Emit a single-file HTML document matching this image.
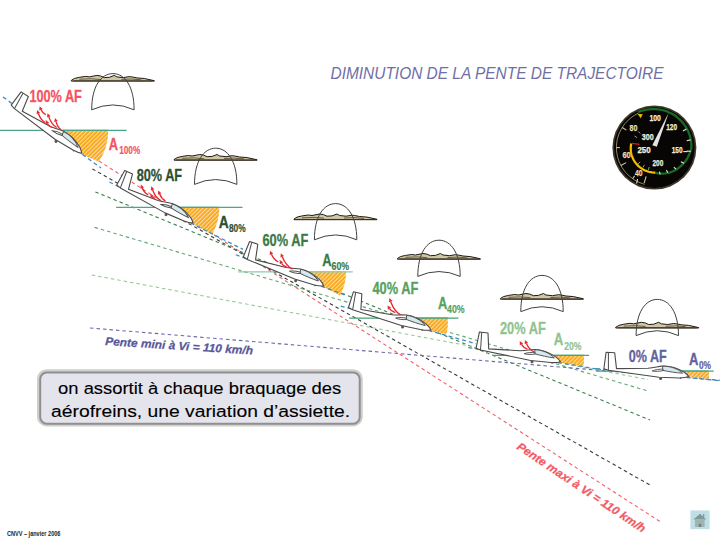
<!DOCTYPE html>
<html><head><meta charset="utf-8"><style>
html,body{margin:0;padding:0;background:#fff;}
body{width:720px;height:540px;position:relative;overflow:hidden;}
svg{position:absolute;left:0;top:0;}
</style></head><body>
<svg width="720" height="540" viewBox="0 0 720 540">
<defs>
<pattern id="hatch" patternUnits="userSpaceOnUse" width="2.9" height="10" patternTransform="rotate(45)">
<rect width="2.9" height="10" fill="#f7a700"/><rect width="1.25" height="10" fill="#ffd6b0"/>
</pattern>

<g id="gl"><g transform="translate(-688.9,-376.6)">
<path d="M603.9,368.7 L606.1,352.3 L614.7,352.8 L616.5,368.6 L648,368.3 C655,367.6 658,366.4 662.2,366.1 C670,365.6 678,368.5 684.3,372.2 C686.5,373.6 688,375.3 688.9,376.6 C686,377.7 682,378 679.7,378 L659.1,377.3 L608.4,370.2 Z" fill="#fff" stroke="#4a4a4a" stroke-width="1.1" stroke-linejoin="round"/>
<path d="M662.6,366.3 C670,365.9 678,368.8 682.6,373.2 C676,372.8 669,371.6 662.8,370.4 Z" fill="#d4e8ee" stroke="#4a4a4a" stroke-width="0.9"/>
<path d="M608.4,352.6 L608.4,370.2" stroke="#4a4a4a" stroke-width="1" fill="none"/>
<path d="M652.2,371 C655,369.6 660,369 663,369.2 L663,370.6 C659,371.5 655,371.6 652.2,371 Z" fill="#fff" stroke="#4a4a4a" stroke-width="0.9"/>
<circle cx="660.6" cy="378.6" r="1.5" fill="#555"/>
<circle cx="680.5" cy="378.3" r="0.8" fill="#555"/>
</g></g>

</defs>
<line x1="99" y1="161" x2="660" y2="521.5" stroke="#f2606c" stroke-width="1.1" stroke-dasharray="3.5 3"/>
<line x1="92.4" y1="168.9" x2="651" y2="485.6" stroke="#3a3a3a" stroke-width="1.1" stroke-dasharray="3.5 3"/>
<line x1="95.4" y1="191.9" x2="650" y2="420" stroke="#3f7f4f" stroke-width="1.1" stroke-dasharray="3.5 3"/>
<line x1="94.6" y1="227.4" x2="648" y2="391" stroke="#62a872" stroke-width="1.1" stroke-dasharray="3.5 3"/>
<line x1="91.7" y1="275" x2="648" y2="379.5" stroke="#99cc99" stroke-width="1.1" stroke-dasharray="3.5 3"/>
<line x1="90" y1="328" x2="720" y2="380.3" stroke="#6a6aaa" stroke-width="1.1" stroke-dasharray="3.5 3"/>
<line x1="0" y1="130.3" x2="126.7" y2="130.3" stroke="#4aa686" stroke-width="1.2"/>
<line x1="116.1" y1="207.3" x2="242.5" y2="207.3" stroke="#4aa880" stroke-width="1.2"/>
<line x1="238.3" y1="271.9" x2="352.8" y2="271.9" stroke="#8ccbb0" stroke-width="1.2"/>
<line x1="349.2" y1="318.2" x2="458.4" y2="318.2" stroke="#40a274" stroke-width="1.2"/>
<line x1="493" y1="355.4" x2="589" y2="355.4" stroke="#3ea87e" stroke-width="1.2"/>
<line x1="596" y1="371.2" x2="713.7" y2="371.2" stroke="#3ea87e" stroke-width="1.2"/>
<path d="M51.22,130.3 L108.3,130.3 A57.08,57.08 0 0 1 98.9,161.7 L81.22,154.17 Z" fill="url(#hatch)"/>
<line x1="51.22" y1="130.3" x2="108.3" y2="130.3" stroke="#4aa686" stroke-width="1.2"/>
<path d="M162.74,207.3 L219.4,207.3 A56.66,56.66 0 0 1 212.2,234.4 L192.74,223.93 Z" fill="url(#hatch)"/>
<line x1="162.74" y1="207.3" x2="219.4" y2="207.3" stroke="#4aa880" stroke-width="1.2"/>
<path d="M294.81,271.9 L346.1,271.9 A51.29,51.29 0 0 1 340,295.6 L323.35,286.87 Z" fill="url(#hatch)"/>
<line x1="294.81" y1="271.9" x2="346.1" y2="271.9" stroke="#8ccbb0" stroke-width="1.2"/>
<path d="M400.63,318.2 L447.8,318.2 A47.17,47.17 0 0 1 446.5,334 L430.63,330.98 Z" fill="url(#hatch)"/>
<line x1="400.63" y1="318.2" x2="447.8" y2="318.2" stroke="#40a274" stroke-width="1.2"/>
<path d="M530.33,355.4 L583.9,355.4 A53.57,53.57 0 0 1 583.5,366.5 L560.33,362.8 Z" fill="url(#hatch)"/>
<line x1="530.33" y1="355.4" x2="583.9" y2="355.4" stroke="#3ea87e" stroke-width="1.2"/>
<path d="M658.9,371.2 L708.8,371.2 A49.9,49.9 0 0 1 708.8,378.8 L688.9,377.6 Z" fill="url(#hatch)"/>
<line x1="658.9" y1="371.2" x2="708.8" y2="371.2" stroke="#3ea87e" stroke-width="1.2"/>
<line x1="3" y1="97" x2="101" y2="167.93" stroke="#3b8cc4" stroke-width="1.3" stroke-dasharray="4 3"/>
<line x1="109.37" y1="181.97" x2="243" y2="249.41" stroke="#3b8cc4" stroke-width="1.3" stroke-dasharray="4 3"/>
<line x1="235.71" y1="254.76" x2="347" y2="295.67" stroke="#3b8cc4" stroke-width="1.3" stroke-dasharray="4 3"/>
<line x1="340.7" y1="306.01" x2="476" y2="343.74" stroke="#3b8cc4" stroke-width="1.3" stroke-dasharray="4 3"/>
<line x1="468.26" y1="347.52" x2="601" y2="369.69" stroke="#3b8cc4" stroke-width="1.3" stroke-dasharray="4 3"/>
<line x1="596" y1="368.62" x2="720" y2="380.74" stroke="#3b8cc4" stroke-width="1.3" stroke-dasharray="4 3"/>
<use href="#gl" transform="translate(81.7,153.3) rotate(29)"/>
<use href="#gl" transform="translate(193.1,223) rotate(21.2)"/>
<use href="#gl" transform="translate(323.6,285.9) rotate(14.6)"/>
<use href="#gl" transform="translate(430.8,330) rotate(10)"/>
<use href="#gl" transform="translate(560.4,361.8) rotate(3.9)"/>
<use href="#gl" transform="translate(688.9,376.6) rotate(0)"/>
<path d="M45.8,114.6 Q42.39,112.93 41.06,109.76" stroke="#e8262b" stroke-width="1.35" fill="none"/>
<path d="M39.6,106.25 L42.82,109.02 L39.31,110.49 Z" fill="#e8262b"/>
<path d="M45,122.5 Q40.66,120 38.37,113.58" stroke="#e8262b" stroke-width="1.35" fill="none"/>
<path d="M37.1,110 L40.16,112.94 L36.58,114.22 Z" fill="#e8262b"/>
<path d="M56.7,127.5 Q51.64,124.66 48.8,116.87" stroke="#e8262b" stroke-width="1.35" fill="none"/>
<path d="M47.5,113.3 L50.59,116.22 L47.02,117.52 Z" fill="#e8262b"/>
<path d="M51.7,127.5 Q48.45,126 47.34,123.47" stroke="#e8262b" stroke-width="1.35" fill="none"/>
<path d="M45.8,120 L49.08,122.71 L45.6,124.24 Z" fill="#e8262b"/>
<path d="M60.8,129.6 Q57.61,127.26 56.02,121.56" stroke="#e8262b" stroke-width="1.35" fill="none"/>
<path d="M55,117.9 L57.85,121.05 L54.19,122.07 Z" fill="#e8262b"/>
<path d="M148.3,195 Q144.18,192.92 142.23,188.12" stroke="#e8262b" stroke-width="1.35" fill="none"/>
<path d="M140.8,184.6 L143.99,187.41 L140.47,188.84 Z" fill="#e8262b"/>
<path d="M160.4,200.4 Q155.37,197.57 152.55,189.82" stroke="#e8262b" stroke-width="1.35" fill="none"/>
<path d="M151.25,186.25 L154.33,189.17 L150.76,190.47 Z" fill="#e8262b"/>
<path d="M155,198.3 Q152.47,197.39 152.28,197.05" stroke="#e8262b" stroke-width="1.35" fill="none"/>
<path d="M150.4,193.75 L153.93,196.11 L150.63,197.99 Z" fill="#e8262b"/>
<path d="M165.4,200.8 Q161.5,198.72 159.66,193.95" stroke="#e8262b" stroke-width="1.35" fill="none"/>
<path d="M158.3,190.4 L161.44,193.27 L157.89,194.63 Z" fill="#e8262b"/>
<path d="M278.3,262 Q273.74,259.76 271.46,254.31" stroke="#e8262b" stroke-width="1.35" fill="none"/>
<path d="M270,250.8 L273.22,253.58 L269.71,255.04 Z" fill="#e8262b"/>
<path d="M286.7,267 Q282.8,265.6 281.48,263.3" stroke="#e8262b" stroke-width="1.35" fill="none"/>
<path d="M279.6,260 L283.13,262.36 L279.83,264.24 Z" fill="#e8262b"/>
<path d="M292.5,269.2 Q286.06,266.02 282.25,256.81" stroke="#e8262b" stroke-width="1.35" fill="none"/>
<path d="M280.8,253.3 L284.01,256.08 L280.5,257.54 Z" fill="#e8262b"/>
<path d="M400.5,314.8 Q394.39,311.46 390.73,301.66" stroke="#e8262b" stroke-width="1.35" fill="none"/>
<path d="M389.4,298.1 L392.51,300.99 L388.95,302.32 Z" fill="#e8262b"/>
<path d="M395.3,312.7 Q391.06,311.24 389.54,308.67" stroke="#e8262b" stroke-width="1.35" fill="none"/>
<path d="M387.6,305.4 L391.17,307.7 L387.9,309.64 Z" fill="#e8262b"/>
<path d="M527.4,349.1 Q523.16,347.5 521.51,344.44" stroke="#e8262b" stroke-width="1.35" fill="none"/>
<path d="M519.7,341.1 L523.18,343.54 L519.84,345.35 Z" fill="#e8262b"/>
<path d="M534,351.9 Q529,349.54 526.41,343.59" stroke="#e8262b" stroke-width="1.35" fill="none"/>
<path d="M524.9,340.1 L528.16,342.83 L524.67,344.34 Z" fill="#e8262b"/>
<g transform="translate(71.3,80.4)"><path d="M0,0 L3.1,-1.9 L8.1,-3.1 L14.4,-4 L18,-3.5 L25.6,-5 L29.4,-4.4 L33,-2.8 L38,-3.1 L43,-5 L45.6,-3.5 L52,-2.8 L58,-3.8 L60.6,-3.5 L65.6,-2.5 L73,-1.9 L83,0.3 L83,0.7 L0,0.7 Z" fill="#cfc6a6" stroke="#1e1a12" stroke-width="1" stroke-linejoin="round"/><path d="M8,-1.2 L20,-1.6 L30,-0.8 M50,-1 L60,-1.4 L70,-0.6" stroke="#6a5a40" stroke-width="1" fill="none"/><path d="M2,0.4 L81,0.5" stroke="#3a3020" stroke-width="0.9"/></g>
<path transform="translate(112.9,73.6)" d="M-21.2,36.2 C-21.2,13 -12,0 0,0 C12,0 21.2,13 21.2,36.2 Q0,26.5 -21.2,36.2 Z" fill="none" stroke="#404040" stroke-width="1"/>
<g transform="translate(174.1,159.5)"><path d="M0,0 L3.1,-1.9 L8.1,-3.1 L14.4,-4 L18,-3.5 L25.6,-5 L29.4,-4.4 L33,-2.8 L38,-3.1 L43,-5 L45.6,-3.5 L52,-2.8 L58,-3.8 L60.6,-3.5 L65.6,-2.5 L73,-1.9 L83,0.3 L83,0.7 L0,0.7 Z" fill="#cfc6a6" stroke="#1e1a12" stroke-width="1" stroke-linejoin="round"/><path d="M8,-1.2 L20,-1.6 L30,-0.8 M50,-1 L60,-1.4 L70,-0.6" stroke="#6a5a40" stroke-width="1" fill="none"/><path d="M2,0.4 L81,0.5" stroke="#3a3020" stroke-width="0.9"/></g>
<path transform="translate(215.7,148.2)" d="M-21.2,36.2 C-21.2,13 -12,0 0,0 C12,0 21.2,13 21.2,36.2 Q0,26.5 -21.2,36.2 Z" fill="none" stroke="#404040" stroke-width="1"/>
<g transform="translate(294,219)"><path d="M0,0 L3.1,-1.9 L8.1,-3.1 L14.4,-4 L18,-3.5 L25.6,-5 L29.4,-4.4 L33,-2.8 L38,-3.1 L43,-5 L45.6,-3.5 L52,-2.8 L58,-3.8 L60.6,-3.5 L65.6,-2.5 L73,-1.9 L83,0.3 L83,0.7 L0,0.7 Z" fill="#cfc6a6" stroke="#1e1a12" stroke-width="1" stroke-linejoin="round"/><path d="M8,-1.2 L20,-1.6 L30,-0.8 M50,-1 L60,-1.4 L70,-0.6" stroke="#6a5a40" stroke-width="1" fill="none"/><path d="M2,0.4 L81,0.5" stroke="#3a3020" stroke-width="0.9"/></g>
<path transform="translate(335.6,203.6)" d="M-21.2,36.2 C-21.2,13 -12,0 0,0 C12,0 21.2,13 21.2,36.2 Q0,26.5 -21.2,36.2 Z" fill="none" stroke="#404040" stroke-width="1"/>
<g transform="translate(397.4,258.5)"><path d="M0,0 L3.1,-1.9 L8.1,-3.1 L14.4,-4 L18,-3.5 L25.6,-5 L29.4,-4.4 L33,-2.8 L38,-3.1 L43,-5 L45.6,-3.5 L52,-2.8 L58,-3.8 L60.6,-3.5 L65.6,-2.5 L73,-1.9 L83,0.3 L83,0.7 L0,0.7 Z" fill="#cfc6a6" stroke="#1e1a12" stroke-width="1" stroke-linejoin="round"/><path d="M8,-1.2 L20,-1.6 L30,-0.8 M50,-1 L60,-1.4 L70,-0.6" stroke="#6a5a40" stroke-width="1" fill="none"/><path d="M2,0.4 L81,0.5" stroke="#3a3020" stroke-width="0.9"/></g>
<path transform="translate(439,240.2)" d="M-21.2,36.2 C-21.2,13 -12,0 0,0 C12,0 21.2,13 21.2,36.2 Q0,26.5 -21.2,36.2 Z" fill="none" stroke="#404040" stroke-width="1"/>
<g transform="translate(500.4,298.5)"><path d="M0,0 L3.1,-1.9 L8.1,-3.1 L14.4,-4 L18,-3.5 L25.6,-5 L29.4,-4.4 L33,-2.8 L38,-3.1 L43,-5 L45.6,-3.5 L52,-2.8 L58,-3.8 L60.6,-3.5 L65.6,-2.5 L73,-1.9 L83,0.3 L83,0.7 L0,0.7 Z" fill="#cfc6a6" stroke="#1e1a12" stroke-width="1" stroke-linejoin="round"/><path d="M8,-1.2 L20,-1.6 L30,-0.8 M50,-1 L60,-1.4 L70,-0.6" stroke="#6a5a40" stroke-width="1" fill="none"/><path d="M2,0.4 L81,0.5" stroke="#3a3020" stroke-width="0.9"/></g>
<path transform="translate(542,275.4)" d="M-21.2,36.2 C-21.2,13 -12,0 0,0 C12,0 21.2,13 21.2,36.2 Q0,26.5 -21.2,36.2 Z" fill="none" stroke="#404040" stroke-width="1"/>
<g transform="translate(615.7,327.3)"><path d="M0,0 L3.1,-1.9 L8.1,-3.1 L14.4,-4 L18,-3.5 L25.6,-5 L29.4,-4.4 L33,-2.8 L38,-3.1 L43,-5 L45.6,-3.5 L52,-2.8 L58,-3.8 L60.6,-3.5 L65.6,-2.5 L73,-1.9 L83,0.3 L83,0.7 L0,0.7 Z" fill="#cfc6a6" stroke="#1e1a12" stroke-width="1" stroke-linejoin="round"/><path d="M8,-1.2 L20,-1.6 L30,-0.8 M50,-1 L60,-1.4 L70,-0.6" stroke="#6a5a40" stroke-width="1" fill="none"/><path d="M2,0.4 L81,0.5" stroke="#3a3020" stroke-width="0.9"/></g>
<path transform="translate(657.3,299.4)" d="M-21.2,36.2 C-21.2,13 -12,0 0,0 C12,0 21.2,13 21.2,36.2 Q0,26.5 -21.2,36.2 Z" fill="none" stroke="#404040" stroke-width="1"/>
<text x="29.4" y="101.5" textLength="52.4" lengthAdjust="spacingAndGlyphs" style="font-family:&quot;Liberation Sans&quot;,sans-serif;font-weight:bold;font-size:16.5px" fill="#f2555f" stroke="#f2555f" stroke-width="0.3">100% AF</text>
<text x="136.7" y="180.75" textLength="45.4" lengthAdjust="spacingAndGlyphs" style="font-family:&quot;Liberation Sans&quot;,sans-serif;font-weight:bold;font-size:16.5px" fill="#2b4f31" stroke="#2b4f31" stroke-width="0.3">80% AF</text>
<text x="262.5" y="246.25" textLength="45.8" lengthAdjust="spacingAndGlyphs" style="font-family:&quot;Liberation Sans&quot;,sans-serif;font-weight:bold;font-size:16.5px" fill="#3b7a45" stroke="#3b7a45" stroke-width="0.3">60% AF</text>
<text x="372.5" y="294.25" textLength="45.8" lengthAdjust="spacingAndGlyphs" style="font-family:&quot;Liberation Sans&quot;,sans-serif;font-weight:bold;font-size:16.5px" fill="#56a15e" stroke="#56a15e" stroke-width="0.3">40% AF</text>
<text x="500" y="333.8" textLength="45.8" lengthAdjust="spacingAndGlyphs" style="font-family:&quot;Liberation Sans&quot;,sans-serif;font-weight:bold;font-size:16.5px" fill="#8fc48f" stroke="#8fc48f" stroke-width="0.3">20% AF</text>
<text x="628.75" y="361.8" textLength="37.9" lengthAdjust="spacingAndGlyphs" style="font-family:&quot;Liberation Sans&quot;,sans-serif;font-weight:bold;font-size:16.5px" fill="#62629e" stroke="#62629e" stroke-width="0.3">0% AF</text>
<text x="108.8" y="149.75" textLength="9.3" lengthAdjust="spacingAndGlyphs" style="font-family:&quot;Liberation Sans&quot;,sans-serif;font-weight:bold;font-size:16.5px" fill="#f2555f" stroke="#f2555f" stroke-width="0.3">A</text>
<text x="119.2" y="154.2" textLength="21" lengthAdjust="spacingAndGlyphs" style="font-family:&quot;Liberation Sans&quot;,sans-serif;font-weight:bold;font-size:11.5px" fill="#f2555f" stroke="#f2555f" stroke-width="0.2">100%</text>
<text x="218.75" y="227.5" textLength="10" lengthAdjust="spacingAndGlyphs" style="font-family:&quot;Liberation Sans&quot;,sans-serif;font-weight:bold;font-size:16.5px" fill="#2b4f31" stroke="#2b4f31" stroke-width="0.3">A</text>
<text x="228.9" y="232" textLength="16.8" lengthAdjust="spacingAndGlyphs" style="font-family:&quot;Liberation Sans&quot;,sans-serif;font-weight:bold;font-size:11.5px" fill="#2b4f31" stroke="#2b4f31" stroke-width="0.2">80%</text>
<text x="322.2" y="265.6" textLength="9.3" lengthAdjust="spacingAndGlyphs" style="font-family:&quot;Liberation Sans&quot;,sans-serif;font-weight:bold;font-size:16.5px" fill="#3b7a45" stroke="#3b7a45" stroke-width="0.3">A</text>
<text x="331.5" y="270" textLength="17.6" lengthAdjust="spacingAndGlyphs" style="font-family:&quot;Liberation Sans&quot;,sans-serif;font-weight:bold;font-size:11.5px" fill="#3b7a45" stroke="#3b7a45" stroke-width="0.2">60%</text>
<text x="438" y="308.6" textLength="9.3" lengthAdjust="spacingAndGlyphs" style="font-family:&quot;Liberation Sans&quot;,sans-serif;font-weight:bold;font-size:16.5px" fill="#56a15e" stroke="#56a15e" stroke-width="0.3">A</text>
<text x="447.1" y="313.3" textLength="17.6" lengthAdjust="spacingAndGlyphs" style="font-family:&quot;Liberation Sans&quot;,sans-serif;font-weight:bold;font-size:11.5px" fill="#56a15e" stroke="#56a15e" stroke-width="0.2">40%</text>
<text x="553.75" y="345.4" textLength="9.5" lengthAdjust="spacingAndGlyphs" style="font-family:&quot;Liberation Sans&quot;,sans-serif;font-weight:bold;font-size:16.5px" fill="#8fc48f" stroke="#8fc48f" stroke-width="0.3">A</text>
<text x="564.2" y="350" textLength="17.2" lengthAdjust="spacingAndGlyphs" style="font-family:&quot;Liberation Sans&quot;,sans-serif;font-weight:bold;font-size:11.5px" fill="#8fc48f" stroke="#8fc48f" stroke-width="0.2">20%</text>
<text x="688.9" y="364.7" textLength="9.4" lengthAdjust="spacingAndGlyphs" style="font-family:&quot;Liberation Sans&quot;,sans-serif;font-weight:bold;font-size:16.5px" fill="#62629e" stroke="#62629e" stroke-width="0.3">A</text>
<text x="698.9" y="368.9" textLength="12.1" lengthAdjust="spacingAndGlyphs" style="font-family:&quot;Liberation Sans&quot;,sans-serif;font-weight:bold;font-size:11.5px" fill="#62629e" stroke="#62629e" stroke-width="0.2">0%</text>
<text transform="translate(105,345) rotate(3.7)" textLength="148" lengthAdjust="spacingAndGlyphs" style="font-family:&quot;Liberation Sans&quot;,sans-serif;font-weight:bold;font-style:italic;font-size:11.5px" fill="#58589a" stroke="#58589a" stroke-width="0.25">Pente mini à Vi = 110 km/h</text>
<text transform="translate(516,448.4) rotate(33.8)" textLength="152" lengthAdjust="spacingAndGlyphs" style="font-family:&quot;Liberation Sans&quot;,sans-serif;font-weight:bold;font-style:italic;font-size:11.5px" fill="#f25a66" stroke="#f25a66" stroke-width="0.25">Pente maxi à Vi = 110 km/h</text>
<text x="330.5" y="78.8" textLength="333" lengthAdjust="spacingAndGlyphs" style="font-family:&quot;Liberation Sans&quot;,sans-serif;font-style:italic;font-size:17px" fill="#6f6fa6">DIMINUTION DE LA PENTE DE TRAJECTOIRE</text>
<circle cx="654.4" cy="147.6" r="42" fill="#3f372c"/>
<circle cx="654.4" cy="147.6" r="40.3" fill="#070605"/>
<path d="M644.56,184.31 A38.0,38.0 0 0 1 638.34,113.16" stroke="#b8a47a" stroke-width="0.8" fill="none"/>
<path d="M637.92,112.25 L640.05,111.4 L642.23,110.67 L644.45,110.07 L646.69,109.61 L648.96,109.28 L651.23,109.08 L653.51,109.02 L655.79,109.1 L658.05,109.3 L660.3,109.64 L662.52,110.12 L664.7,110.72 L666.84,111.44 L668.93,112.3 L670.96,113.27 L672.93,114.36 L674.83,115.56 L676.65,116.87 L678.39,118.28 L680.03,119.79 L681.59,121.39 L683.04,123.08 L684.39,124.85 L685.63,126.69 L686.76,128.6 L687.78,130.57 L688.67,132.59 L689.44,134.66 L690.09,136.77 L690.61,138.91 L691,141.07 L691.26,143.25 L691.39,145.43 L691.4,147.62 L690.88,149.78 L690.23,151.87 L689.47,153.9 L688.6,155.85 L687.62,157.72 L686.54,159.51 L685.36,161.2 L684.1,162.8 L682.76,164.3 L681.35,165.69 L679.88,166.97 L678.34,168.15 L676.76,169.21 L675.14,170.16 L673.49,170.99 L671.81,171.71 L670.11,172.31 L668.41,172.8 L666.7,173.17 L665,173.43 L663.31,173.58 L661.63,173.63 L659.99,173.57 L658.38,173.4 L656.81,173.14 L655.28,172.78" stroke="#176a22" stroke-width="2.3" fill="none"/>
<path d="M655.27,172.58 L654.16,172.56 L653.05,172.49 L651.95,172.37 L650.86,172.2 L649.77,171.98 L648.7,171.71 L647.64,171.4 L646.6,171.04 L645.58,170.63 L644.58,170.18 L643.6,169.69 L642.65,169.15 L641.72,168.58 L640.82,167.96 L639.95,167.31 L639.11,166.62 L638.3,165.89 L637.53,165.13 L636.8,164.33 L636.1,163.51 L635.44,162.66 L634.82,161.78 L634.24,160.87 L633.7,159.94 L633.2,158.99 L632.75,158.02 L632.34,157.03 L631.98,156.03 L631.66,155.01 L631.39,153.98 L631.17,152.94 L630.99,151.9 L630.86,150.85 L630.78,149.79 L630.74,148.74 L630.75,147.68 L630.81,146.63 L630.91,145.59 L631.06,144.55 L631.26,143.52" stroke="#f4c200" stroke-width="2.2" fill="none"/>
<path d="M632,143.4 L639.6,144.4" stroke="#e01818" stroke-width="1.4"/>
<line x1="682.98" y1="131.1" x2="686.44" y2="129.1" stroke="#e8e2d0" stroke-width="1.1"/>
<line x1="686.68" y1="140.74" x2="690.59" y2="139.91" stroke="#e8e2d0" stroke-width="1.1"/>
<line x1="686.72" y1="151" x2="690.7" y2="151.42" stroke="#e8e2d0" stroke-width="1.1"/>
<line x1="680.89" y1="161.68" x2="683.98" y2="163.33" stroke="#e8e2d0" stroke-width="1.1"/>
<line x1="673.85" y1="167.05" x2="675.97" y2="169.17" stroke="#e8e2d0" stroke-width="1.1"/>
<line x1="666.37" y1="170.12" x2="667.78" y2="172.76" stroke="#e8e2d0" stroke-width="1.1"/>
<line x1="659.49" y1="171.56" x2="660.12" y2="174.5" stroke="#e8e2d0" stroke-width="1.1"/>
<line x1="626.41" y1="130.11" x2="622.17" y2="127.46" stroke="#d8c8a0" stroke-width="1.1"/>
<line x1="619.9" y1="147.6" x2="616.4" y2="147.6" stroke="#d8c8a0" stroke-width="1.1"/>
<line x1="626.15" y1="162.62" x2="620.85" y2="165.44" stroke="#d8c8a0" stroke-width="1.1"/>
<line x1="634.61" y1="175.86" x2="632.6" y2="178.73" stroke="#d8c8a0" stroke-width="1.1"/>
<line x1="646.13" y1="176.44" x2="644.2" y2="183.17" stroke="#d8c8a0" stroke-width="1.1"/>
<line x1="649.22" y1="166.92" x2="648.45" y2="169.82" stroke="#b0c0c8" stroke-width="0.8"/>
<line x1="644.4" y1="164.92" x2="642.9" y2="167.52" stroke="#b0c0c8" stroke-width="0.8"/>
<line x1="640.26" y1="161.74" x2="638.14" y2="163.86" stroke="#b0c0c8" stroke-width="0.8"/>
<line x1="637.08" y1="137.6" x2="634.48" y2="136.1" stroke="#b0c0c8" stroke-width="0.8"/>
<line x1="640.26" y1="133.46" x2="638.14" y2="131.34" stroke="#b0c0c8" stroke-width="0.8"/>
<text x="649.45" y="121.3" textLength="11.5" lengthAdjust="spacingAndGlyphs" style="font-family:&quot;Liberation Sans&quot;,sans-serif;font-weight:bold;font-size:8.8px" fill="#f2eedc" stroke="#f2eedc" stroke-width="0.25">100</text>
<text x="666.2" y="129.7" textLength="10.8" lengthAdjust="spacingAndGlyphs" style="font-family:&quot;Liberation Sans&quot;,sans-serif;font-weight:bold;font-size:8.8px" fill="#f2eedc" stroke="#f2eedc" stroke-width="0.25">120</text>
<text x="671.7" y="153.4" textLength="10.8" lengthAdjust="spacingAndGlyphs" style="font-family:&quot;Liberation Sans&quot;,sans-serif;font-weight:bold;font-size:8.8px" fill="#f2eedc" stroke="#f2eedc" stroke-width="0.25">150</text>
<text x="652.5" y="165.7" textLength="10.8" lengthAdjust="spacingAndGlyphs" style="font-family:&quot;Liberation Sans&quot;,sans-serif;font-weight:bold;font-size:8.8px" fill="#f2eedc" stroke="#f2eedc" stroke-width="0.25">200</text>
<text x="637.45" y="153.4" textLength="13.3" lengthAdjust="spacingAndGlyphs" style="font-family:&quot;Liberation Sans&quot;,sans-serif;font-weight:bold;font-size:8.8px" fill="#f2eedc" stroke="#f2eedc" stroke-width="0.25">250</text>
<text x="641.7" y="139.7" textLength="12" lengthAdjust="spacingAndGlyphs" style="font-family:&quot;Liberation Sans&quot;,sans-serif;font-weight:bold;font-size:8.8px" fill="#f2eedc" stroke="#f2eedc" stroke-width="0.25">300</text>
<text x="629.55" y="130.5" textLength="7.9" lengthAdjust="spacingAndGlyphs" style="font-family:&quot;Liberation Sans&quot;,sans-serif;font-weight:bold;font-size:8.8px" fill="#e8dcb0" stroke="#e8dcb0" stroke-width="0.25">80</text>
<text x="622.45" y="157.6" textLength="8.3" lengthAdjust="spacingAndGlyphs" style="font-family:&quot;Liberation Sans&quot;,sans-serif;font-weight:bold;font-size:8.8px" fill="#e8dcb0" stroke="#e8dcb0" stroke-width="0.25">60</text>
<text x="634.95" y="175.5" textLength="7.5" lengthAdjust="spacingAndGlyphs" style="font-family:&quot;Liberation Sans&quot;,sans-serif;font-weight:bold;font-size:8.8px" fill="#e8dcb0" stroke="#e8dcb0" stroke-width="0.25">40</text>
<line x1="683.3" y1="151.6" x2="687.5" y2="151.6" stroke="#f2eedc" stroke-width="1.1"/>
<path d="M652.3,145.3 L668.8,112.6 L656.8,146.8 Z" fill="#e4e4e4"/>
<path d="M637.5,113.8 L642.8,114.2 L640.6,118.2 Z" fill="#f0b400"/>
<path d="M637.6,179 L636.6,183.5" stroke="#e8e2d0" stroke-width="1.1" fill="none"/>
<rect x="37" y="369.2" width="325.8" height="57.2" rx="9.5" fill="#cfcfcb"/>
<rect x="40.2" y="372.6" width="319.5" height="51.1" rx="6.5" fill="#e4e4ec" stroke="#8f8f8f" stroke-width="2"/>
<text x="58.1" y="394.4" textLength="283" lengthAdjust="spacingAndGlyphs" style="font-family:&quot;Liberation Sans&quot;,sans-serif;font-size:17.2px" fill="#000" stroke="#000" stroke-width="0.12">on assortit à chaque braquage des</text>
<text x="51.1" y="416.7" textLength="299" lengthAdjust="spacingAndGlyphs" style="font-family:&quot;Liberation Sans&quot;,sans-serif;font-size:17.2px" fill="#000" stroke="#000" stroke-width="0.12">aérofreins, une variation d’assiette.</text>
<text x="7" y="536" textLength="53.4" lengthAdjust="spacingAndGlyphs" style="font-family:&quot;Liberation Sans&quot;,sans-serif;font-size:6.8px;font-weight:bold" fill="#222">CNVV – janvier 2006</text>
<rect x="690.4" y="510.4" width="19.2" height="18.8" fill="#bfdfe6"/>
<path d="M700,513.8 L706.3,519.6 L693.3,519.6 Z" fill="#7f9898"/><rect x="703" y="514" width="1.3" height="3.5" fill="#7f9898"/>
<rect x="695" y="519.6" width="9.6" height="7.4" fill="#9fb3b3"/><rect x="698.8" y="523.8" width="2.5" height="3.2" fill="#6f8585"/>
</svg>


</body></html>
